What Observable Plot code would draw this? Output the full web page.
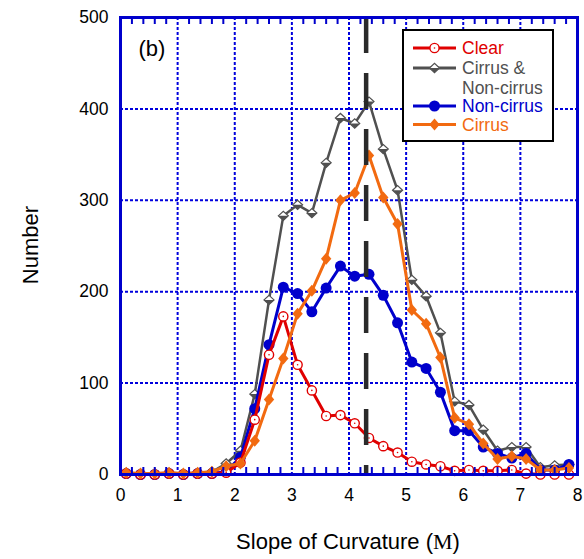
<!DOCTYPE html>
<html><head><meta charset="utf-8">
<script src="https://cdn.jsdelivr.net/npm/d3@7"></script>
<script src="https://cdn.jsdelivr.net/npm/@observablehq/plot@0.6"></script>
<style>body{margin:0;background:#fff;} svg{display:block;}</style>
</head><body><div id="chart"></div>
<script>
// ---- data ----
const slope = [0.1,0.35,0.6,0.85,1.1,1.35,1.6,1.85,2.1,2.35,2.6,2.85,3.1,3.35,3.6,3.85,4.1,4.35,4.6,4.85,5.1,5.35,5.6,5.85,6.1,6.35,6.6,6.85,7.1,7.35,7.6,7.85];
const clear        = [1,0,0,1,0,1,1,2,13,60,131,173,120,92,64,65,56,40,31,24,14,11,9,4,5,4,4,5,1,0,0,0];
const cirrusAndNon = [2,1,1,2,1,2,3,12,26,88,191,283,295,286,341,390,384,408,356,311,213,195,155,80,76,49,26,30,30,8,10,11];
const nonCirrus    = [1,0,0,1,0,1,1,3,19,72,142,205,198,178,204,228,217,219,196,166,123,116,90,48,48,30,23,18,23,5,5,11];
const cirrus       = [2,1,1,2,1,2,3,9,12,37,82,127,176,201,236,300,308,349,303,274,180,165,128,62,55,34,17,20,17,5,5,7];
const seriesNames = ["Clear", "Cirrus & Non-cirrus", "Non-cirrus", "Cirrus"];
const xTicks = [0,1,2,3,4,5,6,7,8];
const yTicks = [0,100,200,300,400,500];
const xGrid = [1,2,3,4,5,6,7];
const yGrid = [100,200,300,400];
const xMinor = [0.2,0.4,0.6,0.8,1.2,1.4,1.6,1.8,2.2,2.4,2.6,2.8,3.2,3.4,3.6,3.8,4.2,4.4,4.6,4.8,5.2,5.4,5.6,5.8,6.2,6.4,6.6,6.8,7.2,7.4,7.6,7.8];
const medianSlope = [4.3];
const panelLabel = ["(b)"];

// ---- style ----
const RED = "#e00000", GRAY = "#505050", BLUE = "#0000cc", ORANGE = "#f26a10";
const GRIDC = "#0000dd", FRAMEC = "#0000cc";
const FONT = "'Liberation Sans', Arial, Helvetica, sans-serif";
const W = 584, H = 559, ML = 120, MR = 7, MT = 17, MB = 85;
const frameH = H - MT - MB, TICKLEN = 7;

const rows = arr => slope.map((x, i) => ({x, y: arr[i]}));
const dClear = rows(clear), dBoth = rows(cirrusAndNon), dNon = rows(nonCirrus), dCir = rows(cirrus);

const diamondSym = (hw, hh) => ({draw(ctx) { ctx.moveTo(-hw, 0); ctx.lineTo(0, -hh); ctx.lineTo(hw, 0); ctx.lineTo(0, hh); ctx.closePath(); }});
const lowerHalfSym = (hw, hh) => ({draw(ctx) { ctx.moveTo(-hw, 0); ctx.lineTo(hw, 0); ctx.lineTo(0, hh); ctx.closePath(); }});
const grayDiamond = diamondSym(5, 4.6), grayHalf = lowerHalfSym(5, 4.6), orangeDiamond = diamondSym(5.2, 6);

const plot = Plot.plot({
  width: W, height: H,
  marginLeft: ML, marginRight: MR, marginTop: MT, marginBottom: MB,
  style: {fontFamily: FONT, background: "white", color: "black"},
  x: {domain: [0, 8]},
  y: {domain: [0, 500]},
  marks: [
    Plot.gridX(xGrid, {stroke: GRIDC, strokeOpacity: 1, strokeWidth: 2, strokeDasharray: "3,2"}),
    Plot.gridY(yGrid, {stroke: GRIDC, strokeOpacity: 1, strokeWidth: 2, strokeDasharray: "3,2"}),
    Plot.axisX(xTicks, {anchor: "bottom", tickSize: 0, tickPadding: 14, fontSize: 17.5, fill: "black", label: null}),
    Plot.axisY(yTicks, {anchor: "left", tickSize: 0, tickPadding: 12, fontSize: 17.5, fill: "black", label: null}),
    // Cirrus & Non-cirrus
    Plot.line(dBoth, {x: "x", y: "y", stroke: GRAY, strokeWidth: 2.5}),
    Plot.dot(dBoth, {x: "x", y: "y", symbol: grayDiamond, fill: "white", stroke: GRAY, strokeWidth: 1.2}),
    Plot.dot(dBoth, {x: "x", y: "y", symbol: grayHalf, fill: GRAY}),
    // Non-cirrus
    Plot.line(dNon, {x: "x", y: "y", stroke: BLUE, strokeWidth: 3}),
    Plot.dot(dNon, {x: "x", y: "y", r: 5.5, fill: BLUE}),
    // Clear
    Plot.line(dClear, {x: "x", y: "y", stroke: RED, strokeWidth: 3}),
    Plot.dot(dClear, {x: "x", y: "y", r: 4.6, fill: "white", stroke: RED, strokeWidth: 1.4}),
    Plot.dot(dClear, {x: "x", y: "y", r: 0.8, fill: RED}),
    // Cirrus
    Plot.line(dCir, {x: "x", y: "y", stroke: ORANGE, strokeWidth: 3}),
    Plot.dot(dCir, {x: "x", y: "y", symbol: orangeDiamond, fill: ORANGE}),
    // median dashed line
    Plot.ruleX(medianSlope, {stroke: "#2a2a2a", strokeWidth: 4.5, strokeDasharray: "36,20"}),
    // minor ticks inside the frame, bottom and top
    Plot.tickX(xMinor, {x: d => d, insetTop: frameH - TICKLEN, stroke: FRAMEC, strokeWidth: 2}),
    Plot.tickX(xMinor, {x: d => d, insetBottom: frameH - TICKLEN, stroke: FRAMEC, strokeWidth: 2}),
    Plot.frame({stroke: FRAMEC, strokeWidth: 3}),
    Plot.text(panelLabel, {text: d => d, frameAnchor: "top-left", dx: 18, dy: 31, textAnchor: "start", lineAnchor: "middle", fontSize: 22, fill: "black"})
  ]
});
document.getElementById("chart").appendChild(plot);

const svg = d3.select(plot);
// ---- axis titles ----
const xt = svg.append("text").attr("x", 348).attr("y", 549).attr("text-anchor", "middle")
  .attr("font-size", 22).attr("font-family", FONT).attr("fill", "black");
xt.append("tspan").text("Slope of Curvature (");
xt.append("tspan").attr("font-family", "'Liberation Serif', 'Times New Roman', serif").text("M");
xt.append("tspan").text(")");
svg.append("text").attr("transform", "translate(38,245) rotate(-90)").attr("text-anchor", "middle")
  .attr("font-size", 22).attr("font-family", FONT).attr("fill", "black").text("Number");

// ---- legend ----
const lg = svg.append("g");
lg.append("rect").attr("x", 403).attr("y", 30).attr("width", 150).attr("height", 111)
  .attr("fill", "white").attr("stroke", "black").attr("stroke-width", 2);
const entries = [
  {lines: [seriesNames[0]], y: 48, color: RED, kind: "clear"},
  {lines: ["Cirrus &", "Non-cirrus"], y: 68, color: GRAY, kind: "both"},
  {lines: [seriesNames[2]], y: 106, color: BLUE, kind: "non"},
  {lines: [seriesNames[3]], y: 124.5, color: ORANGE, kind: "cirrus"}
];
const sym = s => d3.symbol().type(s)();
entries.forEach(e => {
  lg.append("line").attr("x1", 413).attr("x2", 456).attr("y1", e.y).attr("y2", e.y)
    .attr("stroke", e.color).attr("stroke-width", 3);
  const g = lg.append("g").attr("transform", `translate(434.5,${e.y})`);
  if (e.kind === "clear") {
    g.append("circle").attr("r", 4.6).attr("fill", "white").attr("stroke", RED).attr("stroke-width", 1.4);
    g.append("circle").attr("r", 0.8).attr("fill", RED);
  } else if (e.kind === "both") {
    g.append("path").attr("d", sym(grayDiamond)).attr("fill", "white").attr("stroke", GRAY).attr("stroke-width", 1.2);
    g.append("path").attr("d", sym(grayHalf)).attr("fill", GRAY);
  } else if (e.kind === "non") {
    g.append("circle").attr("r", 5.5).attr("fill", BLUE);
  } else {
    g.append("path").attr("d", sym(orangeDiamond)).attr("fill", ORANGE);
  }
  e.lines.forEach((t, i) => {
    lg.append("text").attr("x", 462).attr("y", e.y + i * 19.5).attr("dy", "0.35em")
      .attr("text-anchor", "start")
      .attr("font-size", 17.5).attr("font-family", FONT).attr("fill", e.color).text(t);
  });
});
</script>
</body></html>
